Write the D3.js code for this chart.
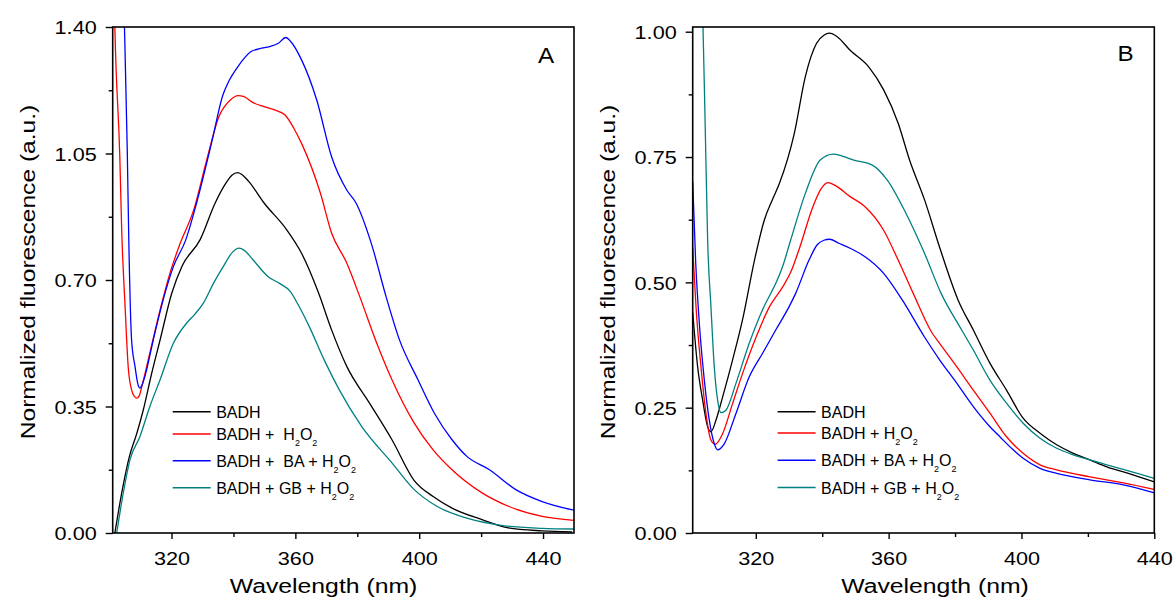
<!DOCTYPE html>
<html>
<head>
<meta charset="utf-8">
<script src="https://cdn.jsdelivr.net/npm/d3@7"></script>
<style>
  body { margin: 0; background: #fff; }
  text { font-family: "Liberation Sans", Arial, sans-serif; fill: #000; }
</style>
</head>
<body>
<div id="chart"></div>
<script>
// Fluorescence spectra, two panels (A and B)
// each series is a list of [wavelength nm, normalized fluorescence]

const seriesNames = ["BADH", "BADH + H2O2", "BADH + BA + H2O2", "BADH + GB + H2O2"];
const seriesColors = ["#000000", "#ff0000", "#0000ff", "#008080"];

// panel A
const aBadh = [[301.7,0],[303.9,0.11],[306.4,0.212],[308.8,0.276],[310.9,0.341],[313.6,0.442],[316.3,0.534],[320.1,0.664],[323.5,0.74],[329.2,0.811],[334.1,0.913],[337.2,0.963],[339.5,0.99],[341.4,0.997],[343,0.99],[345,0.972],[349.9,0.913],[357.2,0.839],[362,0.774],[367.5,0.664],[371.7,0.562],[376.6,0.461],[383.9,0.36],[391.2,0.258],[398.4,0.145],[404.5,0.101],[410.6,0.069],[420.3,0.037],[428.8,0.014],[439.7,0.006],[449.4,0.003]];
const aH2o2 = [[301.2,1.62],[301.7,1.4],[303.3,1.04],[303.9,0.84],[305,0.627],[306,0.46],[307.1,0.396],[308,0.378],[308.8,0.373],[309.6,0.38],[310.4,0.405],[313,0.498],[316.3,0.617],[319.5,0.719],[322.3,0.79],[327.5,0.903],[331.1,1.023],[335.3,1.152],[339,1.198],[341.5,1.21],[343.2,1.208],[346.5,1.19],[349.9,1.18],[353.5,1.17],[356.6,1.157],[359.5,1.12],[362,1.078],[368.1,0.94],[371.7,0.83],[376.6,0.747],[380.8,0.654],[386.3,0.525],[391.2,0.424],[398.4,0.304],[404.5,0.23],[410.6,0.175],[420.3,0.111],[428.8,0.074],[439.7,0.046],[450,0.035]];
const aBa = [[304.2,1.6],[304.8,1.4],[305.7,1.06],[306.2,0.81],[307.1,0.534],[308.2,0.461],[309.2,0.41],[309.8,0.401],[310.5,0.41],[311.4,0.433],[314.1,0.534],[317.3,0.645],[320.6,0.737],[324.6,0.811],[328.1,0.913],[332.9,1.078],[336.6,1.212],[338.5,1.25],[341.4,1.29],[345.7,1.332],[348.5,1.34],[351.7,1.346],[354.5,1.355],[356.9,1.371],[358.5,1.36],[362,1.309],[366.9,1.198],[371.7,1.041],[376.6,0.949],[379.6,0.913],[384.5,0.802],[389.3,0.654],[393.6,0.535],[399.6,0.424],[405,0.33],[410.6,0.258],[415.4,0.212],[422.7,0.175],[431.2,0.12],[439.7,0.087],[450,0.063]];
const aGb = [[302.3,0],[304.4,0.11],[306.6,0.203],[309.8,0.267],[313,0.35],[316.3,0.424],[320.6,0.525],[324.9,0.581],[327.5,0.605],[330.3,0.636],[333.5,0.69],[336.7,0.737],[339.5,0.775],[341.8,0.788],[343.5,0.782],[346.3,0.756],[351.1,0.71],[355,0.69],[358.4,0.668],[361,0.63],[364.5,0.571],[369.3,0.479],[374.2,0.396],[381.4,0.295],[391.2,0.194],[398.4,0.12],[405.7,0.074],[415.4,0.041],[427.6,0.02],[439.7,0.013],[450,0.011]];

// panel B
const bBadh = [[301,0.44],[302.5,0.331],[304,0.265],[305.5,0.212],[306.5,0.202],[308,0.225],[310,0.271],[313,0.345],[316,0.425],[319.6,0.544],[322.6,0.625],[325,0.665],[327.1,0.697],[331.6,0.797],[334.9,0.91],[338.3,0.977],[340.5,0.993],[342.2,0.997],[344.5,0.99],[348.4,0.963],[354,0.93],[358.5,0.884],[362.9,0.817],[366.3,0.744],[370.8,0.665],[375.3,0.571],[380.9,0.465],[385.5,0.405],[390.5,0.339],[395.5,0.285],[400.5,0.229],[405.6,0.199],[410.6,0.176],[415.6,0.159],[420.6,0.146],[425.7,0.132],[430.7,0.122],[440,0.102]];
const bH2o2 = [[301,0.57],[302,0.451],[303.5,0.331],[305,0.238],[306.5,0.185],[307.8,0.177],[310,0.198],[313,0.258],[316,0.318],[320.1,0.391],[324.1,0.451],[328.1,0.491],[330.5,0.52],[333,0.565],[337.2,0.651],[339.5,0.685],[341.7,0.699],[344,0.693],[348.4,0.671],[352.9,0.651],[358.5,0.604],[362.9,0.544],[367.4,0.478],[373,0.4],[375.4,0.378],[380.5,0.332],[385.5,0.285],[390.5,0.239],[395.5,0.192],[400.5,0.159],[405.6,0.136],[410.6,0.126],[420.6,0.112],[430.7,0.1],[440,0.087]];
const bBa = [[301,0.7],[301.9,0.54],[303,0.418],[304.5,0.305],[306,0.225],[307.5,0.178],[308.5,0.166],[310.5,0.178],[314,0.238],[318,0.311],[322,0.358],[326,0.405],[330,0.451],[332,0.478],[336,0.544],[338.5,0.575],[340.5,0.584],[342.2,0.586],[345,0.578],[348.4,0.568],[352.9,0.551],[358.5,0.518],[364.1,0.465],[370.8,0.391],[375.4,0.345],[380.5,0.299],[385.5,0.252],[390.5,0.212],[393.5,0.192],[397.5,0.166],[400.5,0.149],[405.6,0.129],[410.6,0.119],[420.6,0.106],[430.7,0.096],[440,0.08]];
const bGb = [[303.6,1.1],[304.1,1.01],[304.8,0.8],[305.5,0.584],[306.5,0.451],[307.5,0.331],[308.5,0.265],[309.5,0.24],[311,0.245],[314,0.298],[318,0.378],[322,0.445],[326,0.498],[328,0.53],[330.3,0.58],[334.9,0.677],[339.4,0.744],[343.3,0.756],[346,0.752],[349.5,0.744],[355.1,0.734],[359.6,0.704],[365.2,0.638],[370.8,0.558],[375.8,0.478],[382,0.405],[385.5,0.365],[390.5,0.305],[395.5,0.259],[400.5,0.219],[405.6,0.189],[410.6,0.169],[415.6,0.156],[420.6,0.146],[425.7,0.136],[430.7,0.127],[440,0.109]];

// axes
const aXDomain = [301, 450];
const bXDomain = [301, 440];
const aYDomain = [0, 1.40];
const bYDomain = [0, 1.0094];
const xMajor = [320, 360, 400, 440];
const xMinor = [340, 380, 420];
const aYMajor = [0, 0.35, 0.70, 1.05, 1.40];
const aYMinor = [0.175, 0.525, 0.875, 1.225];
const bYMajor = [0, 0.25, 0.50, 0.75, 1.00];
const bYMinor = [0.125, 0.375, 0.625, 0.875];

const width = 1174;
const height = 599;
const stretch = 1.17; // the figure's text is wider than plain Arial

const svg = d3.select("#chart")
    .append("svg")
    .attr("width", width)
    .attr("height", height);

function subscriptLabel(sel, name) {
    // turn "H2O2" into H, sub 2, O, sub 2
    const parts = name.split("H2O2");
    sel.append("tspan").text(parts[0] + "H");
    sel.append("tspan").attr("font-size", 9).attr("dy", 6).text("2");
    sel.append("tspan").attr("dy", -6).text("O");
    sel.append("tspan").attr("font-size", 9).attr("dy", 6).text("2");
}

function drawPanel(p) {
    const g = svg.append("g");

    const x = d3.scaleLinear().domain(p.xDomain).range([p.left, p.right]);
    const y = d3.scaleLinear().domain(p.yDomain).range([p.bottom, p.top]);

    const clipId = "clip-" + p.letter;
    g.append("clipPath").attr("id", clipId)
        .append("rect")
        .attr("x", p.left).attr("y", p.top)
        .attr("width", p.right - p.left).attr("height", p.bottom - p.top);

    const line = d3.line()
        .x(d => x(d[0]))
        .y(d => y(d[1]))
        .curve(d3.curveMonotoneX);

    g.append("g").attr("clip-path", `url(#${clipId})`)
        .selectAll("path")
        .data(p.series)
        .enter().append("path")
        .attr("d", d => line(d))
        .attr("fill", "none")
        .attr("stroke", (d, i) => seriesColors[i])
        .attr("stroke-width", 1.3)
        .attr("stroke-linejoin", "round");

    // bottom axis, major and minor ticks
    const xAxis = g.append("g")
        .attr("transform", `translate(0,${p.bottom})`)
        .call(d3.axisBottom(x).tickValues(xMajor).tickSize(6).tickSizeOuter(0).tickFormat(d3.format("d")));
    g.append("g")
        .attr("transform", `translate(0,${p.bottom})`)
        .call(d3.axisBottom(x).tickValues(xMinor).tickSize(4).tickSizeOuter(0).tickFormat(""));

    xAxis.selectAll("text")
        .attr("y", null).attr("dy", null)
        .attr("transform", `translate(0,32) scale(${stretch},1)`)
        .attr("font-size", 18.5);

    // left axis
    const yAxis = g.append("g")
        .attr("transform", `translate(${p.left},0)`)
        .call(d3.axisLeft(y).tickValues(p.yMajor).tickSize(7).tickSizeOuter(0).tickFormat(d3.format(".2f")));
    g.append("g")
        .attr("transform", `translate(${p.left},0)`)
        .call(d3.axisLeft(y).tickValues(p.yMinor).tickSize(4).tickSizeOuter(0).tickFormat(""));

    yAxis.selectAll("text")
        .attr("x", null).attr("dy", "0.36em")
        .attr("transform", `translate(-16,0) scale(${stretch},1)`)
        .attr("font-size", 18.5);

    g.selectAll(".domain").remove();
    g.selectAll(".tick line").attr("stroke", "#000").attr("stroke-width", 1.4);
    g.selectAll(".tick text").attr("fill", "#000").attr("font-family", null);
    g.selectAll("g").attr("font-family", null);

    // frame
    g.append("rect")
        .attr("x", p.left).attr("y", p.top)
        .attr("width", p.right - p.left).attr("height", p.bottom - p.top)
        .attr("fill", "none")
        .attr("stroke", "#000")
        .attr("stroke-width", 1.6);

    // titles
    g.append("text")
        .attr("text-anchor", "middle")
        .attr("font-size", 21)
        .attr("transform", `translate(${p.xTitleX},593) scale(1.18,1)`)
        .text("Wavelength (nm)");

    g.append("text")
        .attr("text-anchor", "middle")
        .attr("font-size", 21)
        .attr("transform", `translate(${p.yTitleX},272) rotate(-90) scale(${stretch},1)`)
        .text("Normalized fluorescence (a.u.)");

    g.append("text")
        .attr("text-anchor", "middle")
        .attr("font-size", 22)
        .attr("transform", `translate(${p.letterX},${p.letterY}) scale(1.1,1)`)
        .text(p.letter);

    // legend
    const legend = g.append("g");
    seriesNames.forEach(function (name, i) {
        const ly = p.legendRows[i];
        legend.append("line")
            .attr("x1", p.legendX).attr("x2", p.legendX + 38)
            .attr("y1", ly).attr("y2", ly)
            .attr("stroke", seriesColors[i])
            .attr("stroke-width", 1.5);
        const t = legend.append("text")
            .attr("x", p.legendX + 43.5)
            .attr("y", ly + 6)
            .attr("font-size", 16)
            .attr("xml:space", "preserve");
        if (i === 0) {
            t.text(name);
        } else {
            subscriptLabel(t, p.legendText[i]);
        }
    });
}

drawPanel({
    letter: "A",
    left: 112.7, right: 574, top: 27, bottom: 533,
    xDomain: aXDomain, yDomain: aYDomain,
    yMajor: aYMajor, yMinor: aYMinor,
    series: [aBadh, aH2o2, aBa, aGb],
    xTitleX: 323.5, yTitleX: 35,
    letterX: 546, letterY: 63,
    legendX: 172.7,
    legendRows: [411.7, 434, 460.7, 487.7],
    legendText: ["BADH", "BADH +\u00a0\u00a0H2O2", "BADH +\u00a0\u00a0BA + H2O2", "BADH + GB + H2O2"]
});

drawPanel({
    letter: "B",
    left: 692.7, right: 1154.3, top: 27, bottom: 533,
    xDomain: bXDomain, yDomain: bYDomain,
    yMajor: bYMajor, yMinor: bYMinor,
    series: [bBadh, bH2o2, bBa, bGb],
    xTitleX: 935, yTitleX: 615,
    letterX: 1125.5, letterY: 61,
    legendX: 777.6,
    legendRows: [411.7, 433, 460.3, 487.5],
    legendText: ["BADH", "BADH + H2O2", "BADH + BA + H2O2", "BADH + GB + H2O2"]
});
</script>
</body>
</html>
